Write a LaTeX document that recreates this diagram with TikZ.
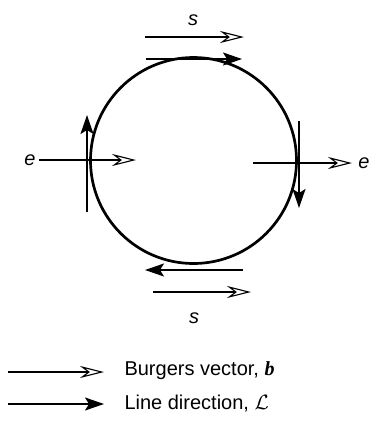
\documentclass[tikz,border=0pt]{standalone}
\usepackage{fontspec}
\setmainfont{Liberation Sans}
\newfontfamily\bvecfont{Liberation Serif}
\usetikzlibrary{arrows.meta}
\tikzset{
  burgers/.style={line width=1.5pt,-{Stealth[open,length=24pt,width=12pt,inset=8pt,line width=1.1pt]}},
  linedir/.style={line width=1.7pt,-{Stealth[length=19pt,width=13pt,inset=4pt]}},
  lbl/.style={font=\fontsize{20}{23}\selectfont}
}
\begin{document}
\begin{tikzpicture}[x=1pt,y=-1pt]
\useasboundingbox (0,0) rectangle (370,429);
\coordinate (O) at (193.5,160.5);
\draw[line width=2.7pt] (O) circle (103);
% top (screw)
\coordinate (tb1) at (145,37); \coordinate (tb2) at (244,37);
\coordinate (tl1) at (146,59); \coordinate (tl2) at (242,59);
\draw[burgers] (tb1) -- (tb2);
\draw[linedir] (tl1) -- (tl2);
\node[lbl] (s1) at (193,20) {\itshape s};
% bottom (screw)
\coordinate (bl1) at (243,270); \coordinate (bl2) at (145,270);
\coordinate (bb1) at (153,292); \coordinate (bb2) at (251,292);
\draw[linedir] (bl1) -- (bl2);
\draw[burgers] (bb1) -- (bb2);
\node[lbl] (s2) at (194,318) {\itshape s};
% left (edge)
\coordinate (lb1) at (39,160); \coordinate (lb2) at (136,160);
\coordinate (ll1) at (87,212); \coordinate (ll2) at (87,115);
\draw[burgers] (lb1) -- (lb2);
\draw[linedir] (ll1) -- (ll2);
\node[lbl] (e1) at (30,160) {\itshape e};
% right (edge)
\coordinate (rb1) at (253,163); \coordinate (rb2) at (352,163);
\coordinate (rl1) at (299,121); \coordinate (rl2) at (299,208);
\draw[burgers] (rb1) -- (rb2);
\draw[linedir] (rl1) -- (rl2);
\node[lbl] (e2) at (364,163) {\itshape e};
% legend
\coordinate (k1a) at (8,372); \coordinate (k1b) at (104,372);
\coordinate (k2a) at (8,404); \coordinate (k2b) at (104,404);
\draw[burgers] (k1a) -- (k1b);
\draw[linedir] (k2a) -- (k2b);
\node[lbl,anchor=west] (kb) at (121,371) {Burgers vector, {\bvecfont\bfseries\itshape b}};
\node[lbl,anchor=west] (kl) at (121,404) {Line direction, $\mathcal{L}$};
\end{tikzpicture}
\end{document}
